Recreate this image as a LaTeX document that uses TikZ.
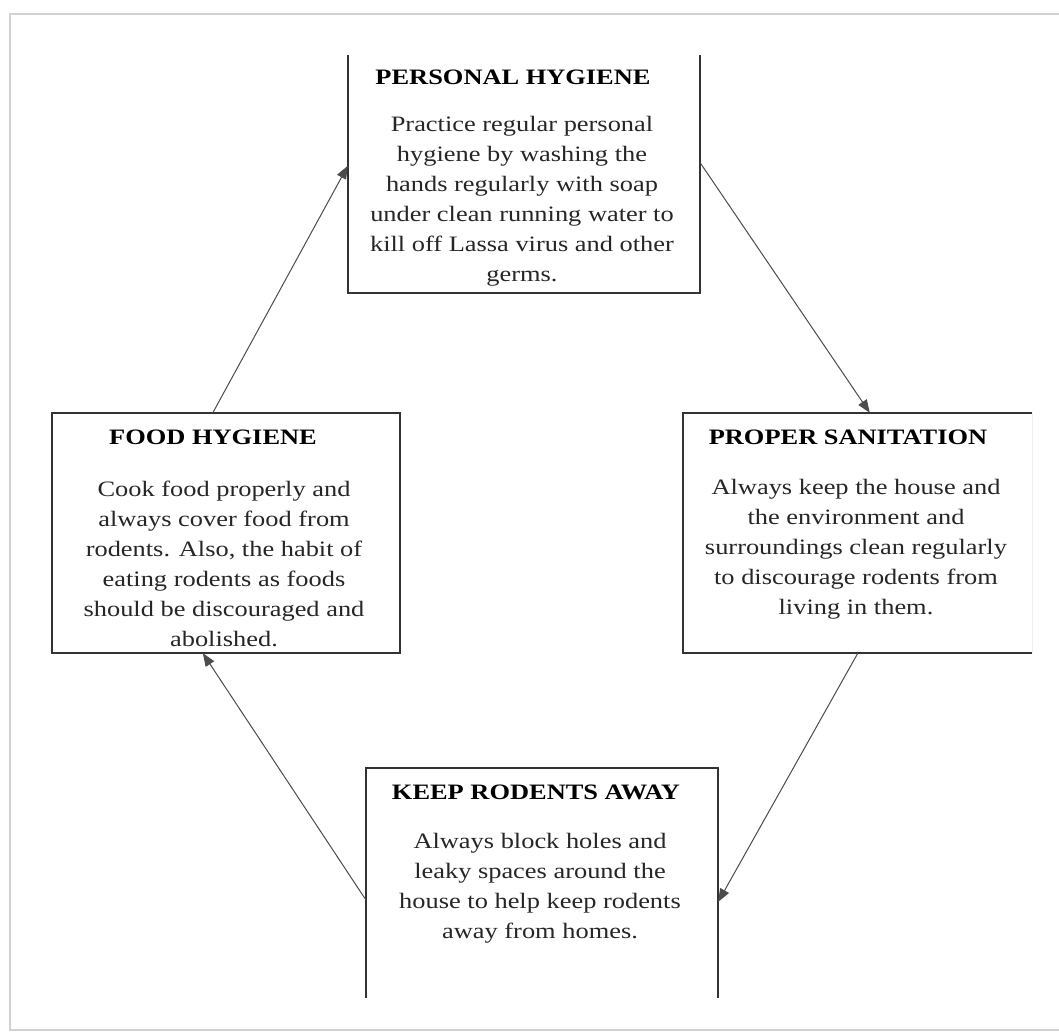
\documentclass[tikz,border=0pt]{standalone}
\usepackage{fontspec}
\setmainfont{Liberation Serif}
\usetikzlibrary{arrows.meta}
\begin{document}
\begin{tikzpicture}[x=1pt,y=-1pt,
  box/.style={rectangle,draw=none,inner sep=0pt},
  boxline/.style={line width=1.8pt,draw=black!80},
  ttl/.style={font=\fontsize{22}{30}\selectfont\bfseries,text=black,inner sep=0pt,xscale=1.2,transform shape},
  body/.style={font=\fontsize{22}{30}\selectfont,text=black!85,align=center,inner sep=0pt,xscale=1.2,transform shape},
  arr/.style={-{Triangle[length=13pt,width=10pt]},line width=1pt,draw=black!70}]
\useasboundingbox (0,0) rectangle (1059,1032);
\fill[white] (0,0) rectangle (1059,1032);
% outer frame
\draw[gray!35,line width=2.5pt] (1059,14) -- (10,14) -- (10,1030) -- (1059,1030);
% boxes
\node[box,minimum width=352pt,minimum height=238pt] (ph) at (524,174) {};
\node[box,minimum width=348pt,minimum height=240pt] (fh) at (226,533) {};
\node[box,minimum width=349pt,minimum height=240pt] (ps) at (857.5,533) {};
\node[box,minimum width=352pt,minimum height=230pt] (kr) at (542,883) {};
\draw[boxline] (ph.north west) -- (ph.south west) -- (ph.south east) -- (ph.north east);
\draw[boxline] (fh.north west) rectangle (fh.south east);
\draw[boxline] (ps.north east) -- (ps.north west) -- (ps.south west) -- (ps.south east);
\draw[line width=0.8pt,black!6] (ps.north east) -- (ps.south east);
\draw[boxline] (kr.south west) -- (kr.north west) -- (kr.north east) -- (kr.south east);
% titles
\node[ttl] (pht) at (513,77) {PERSONAL HYGIENE};
\node[ttl] (fht) at (213,437) {FOOD HYGIENE};
\node[ttl] (pst) at (848,437) {PROPER SANITATION};
\node[ttl] (krt) at (536,792) {KEEP RODENTS AWAY};
% bodies
\node[body] (phb) at (522,201) {Practice regular personal\\hygiene by washing the\\hands regularly with soap\\under clean running water to\\kill off Lassa virus and other\\germs.};
\node[body] (fhb) at (224,564) {Cook food properly and\\always cover food from\\rodents. Also, the habit of\\eating rodents as foods\\should be discouraged and\\abolished.};
\node[body] (psb) at (856,549) {Always keep the house and\\the environment and\\surroundings clean regularly\\to discourage rodents from\\living in them.};
\node[body] (krb) at (540,888) {Always block holes and\\leaky spaces around the\\house to help keep rodents\\away from homes.};
% connector end points
\coordinate (a1s) at ([xshift=161pt]fh.north west);
\coordinate (a1e) at ([yshift=-111pt]ph.north west);
\coordinate (a2s) at ([yshift=-108pt]ph.north east);
\coordinate (a2e) at ([xshift=187pt]ps.north west);
\coordinate (a3s) at ([xshift=175pt]ps.south west);
\coordinate (a3e) at ([yshift=-134pt]kr.north east);
\coordinate (a4s) at ([yshift=-132pt]kr.north west);
\coordinate (a4e) at ([xshift=151pt]fh.south west);
\draw[arr] (a1s) -- (a1e);
\draw[arr] (a2s) -- (a2e);
\draw[arr] (a3s) -- (a3e);
\draw[arr] (a4s) -- (a4e);
\end{tikzpicture}
\end{document}
